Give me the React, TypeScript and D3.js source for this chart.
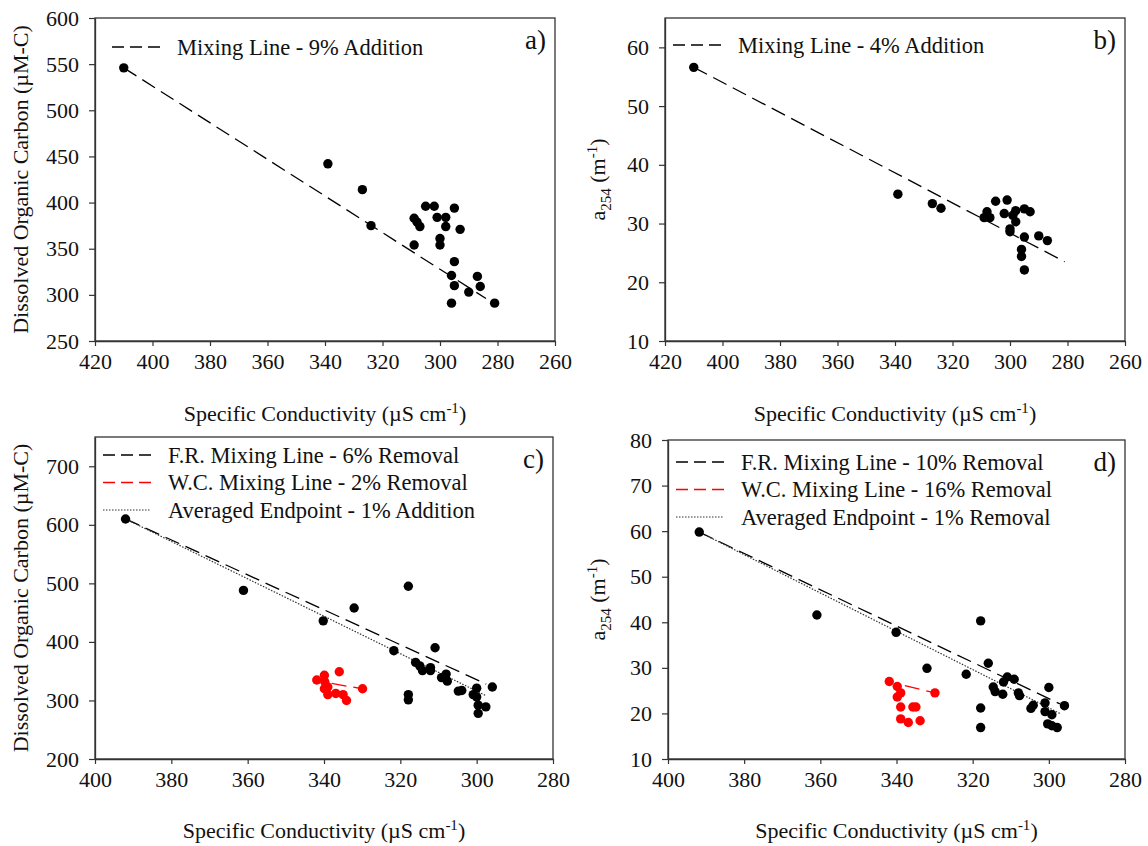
import { useEffect, useRef } from 'react'
import * as d3 from 'd3'

const FONT = '"Liberation Serif", "Times New Roman", serif'

// tick values
const xTicksTop = [420, 400, 380, 360, 340, 320, 300, 280, 260]
const xTicksBottom = [400, 380, 360, 340, 320, 300, 280]
const yTicksA = [250, 300, 350, 400, 450, 500, 550, 600]
const yTicksB = [10, 20, 30, 40, 50, 60]
const yTicksC = [200, 300, 400, 500, 600, 700]
const yTicksD = [10, 20, 30, 40, 50, 60, 70, 80]

// a) DOC vs conductivity
const condA = [410, 339, 327, 324, 309, 308, 307, 305, 302, 301, 298, 298, 295, 293, 300, 300, 309, 295, 296, 295, 290, 287, 286, 296, 281]
const docA = [546, 442, 414, 375, 383, 379, 374, 396, 396, 384, 384, 374, 394, 371, 361, 354, 354, 336, 321, 310, 303, 320, 309, 291, 291]
const mixCondA = [410, 284]
const mixDocA = [546, 296]

// b) a254 vs conductivity
const condB = [410, 339, 327, 324, 308, 309, 307, 305, 301, 302, 298, 298, 300, 295, 293, 295, 290, 287, 296, 296, 295, 299, 300]
const a254B = [56.6, 35.0, 33.4, 32.6, 32.0, 31.0, 31.0, 33.8, 34.0, 31.7, 32.2, 30.3, 29.1, 32.5, 32.0, 27.7, 27.9, 27.1, 25.6, 24.4, 22.1, 31.4, 28.6]
const mixCondB = [410, 281]
const mixA254B = [56.6, 23.5]

// c) DOC, F.R. (black) and W.C. (red)
const condC = [392, 361.1, 340.2, 332.1, 317.9, 321.7, 310.9, 316, 314.9, 314.2, 312.1, 312.1, 309.2, 308, 307.7, 304.8, 303.9, 300, 300.9, 300, 299.6, 297.6, 299.6, 295.9, 317.9, 317.9]
const docC = [610, 488, 436, 458, 495, 385, 390, 365, 359, 351, 356, 351, 339, 345, 333, 316, 317, 321, 310, 306, 292, 289, 278, 323, 310, 301]
const condCRed = [341.9, 339.9, 336, 339.8, 339, 339.9, 339, 336.9, 335, 334.1, 329.9]
const docCRed = [335, 343, 349, 332, 323, 320, 310, 312, 310, 300, 320]
const frCondC = [392, 297.5]
const frDocC = [610, 328]
const wcCondC = [338, 330]
const wcDocC = [329, 320]
const avgCondC = [392, 297.5]
const avgDocC = [610, 308]

// d) a254, F.R. (black) and W.C. (red)
const condD = [391.8, 360.9, 340.1, 332, 317.9, 321.7, 315.9, 317.9, 317.9, 314.6, 314.1, 312.1, 311.9, 310.9, 309.1, 308, 307.7, 304.7, 304.1, 301, 301, 300, 299.2, 300.3, 299.2, 297.8, 295.9]
const a254D = [59.8, 41.6, 37.8, 29.9, 40.3, 28.6, 31, 21.2, 16.9, 25.8, 24.8, 24.2, 26.9, 28, 27.5, 24.5, 23.9, 21.1, 21.8, 22.3, 20.4, 25.7, 19.7, 17.7, 17.3, 16.9, 21.7]
const condDRed = [341.9, 339.8, 338.9, 339.8, 338.9, 335.7, 334.9, 338.9, 336.9, 333.8, 329.9]
const a254DRed = [27, 25.9, 24.5, 23.6, 21.4, 21.4, 21.4, 18.8, 18, 18.4, 24.5]
const frCondD = [391.8, 297.1]
const frA254D = [59.8, 22.1]
const wcCondD = [337.8, 329.9]
const wcA254D = [26.1, 24.5]
const avgCondD = [391.8, 297.1]
const avgA254D = [59.8, 20]

const DASH = '15,7'
const DOT = '1.5,1.5'

const zip = (xs: number[], ys: number[]) => xs.map((v, i) => [v, ys[i]] as [number, number])

const panels = [
  {
    letter: 'a)', left: 95, right: 555, top: 18, bottom: 341,
    xDomain: [420, 260], yDomain: [250, 600], xTicks: xTicksTop, yTicks: yTicksA,
    yLabel: 'doc', yLabelX: 20, xLabelY: 421,
    points: [{ data: zip(condA, docA), color: '#000' }],
    lines: [{ data: zip(mixCondA, mixDocA), color: '#000', dash: DASH, label: 'Mixing Line - 9% Addition' }],
    legendX: 112, legendY: 47,
  },
  {
    letter: 'b)', left: 665, right: 1125, top: 18, bottom: 341,
    xDomain: [420, 260], yDomain: [10, 65], xTicks: xTicksTop, yTicks: yTicksB,
    yLabel: 'a254', yLabelX: 597, xLabelY: 421,
    points: [{ data: zip(condB, a254B), color: '#000' }],
    lines: [{ data: zip(mixCondB, mixA254B), color: '#000', dash: DASH, label: 'Mixing Line - 4% Addition' }],
    legendX: 673, legendY: 45,
  },
  {
    letter: 'c)', left: 95, right: 553, top: 437, bottom: 759,
    xDomain: [400, 280], yDomain: [200, 750], xTicks: xTicksBottom, yTicks: yTicksC,
    yLabel: 'doc', yLabelX: 20, xLabelY: 838,
    points: [{ data: zip(condC, docC), color: '#000' }, { data: zip(condCRed, docCRed), color: '#f00' }],
    lines: [
      { data: zip(frCondC, frDocC), color: '#000', dash: DASH, label: 'F.R. Mixing Line - 6% Removal' },
      { data: zip(wcCondC, wcDocC), color: '#f00', dash: DASH, label: 'W.C. Mixing Line - 2% Removal' },
      { data: zip(avgCondC, avgDocC), color: '#333', dash: DOT, label: 'Averaged Endpoint - 1% Addition' },
    ],
    legendX: 103, legendY: 455,
  },
  {
    letter: 'd)', left: 668, right: 1125, top: 440, bottom: 759,
    xDomain: [400, 280], yDomain: [10, 80], xTicks: xTicksBottom, yTicks: yTicksD,
    yLabel: 'a254', yLabelX: 597, xLabelY: 838,
    points: [{ data: zip(condD, a254D), color: '#000' }, { data: zip(condDRed, a254DRed), color: '#f00' }],
    lines: [
      { data: zip(frCondD, frA254D), color: '#000', dash: DASH, label: 'F.R. Mixing Line - 10% Removal' },
      { data: zip(wcCondD, wcA254D), color: '#f00', dash: DASH, label: 'W.C. Mixing Line - 16% Removal' },
      { data: zip(avgCondD, avgA254D), color: '#333', dash: DOT, label: 'Averaged Endpoint - 1% Removal' },
    ],
    legendX: 676, legendY: 462,
  },
]

function drawPanel(svg: any, p: any) {
  const x = d3.scaleLinear().domain(p.xDomain).range([p.left, p.right])
  const y = d3.scaleLinear().domain(p.yDomain).range([p.bottom, p.top])
  const g = svg.append('g')

  // frame
  g.append('rect')
    .attr('x', p.left).attr('y', p.top)
    .attr('width', p.right - p.left).attr('height', p.bottom - p.top)
    .attr('fill', 'none').attr('stroke', '#333').attr('stroke-width', 1.3)

  // x axis
  const xa = g.append('g')
    .attr('transform', `translate(0,${p.bottom})`)
    .call(d3.axisBottom(x).tickValues(p.xTicks).tickSize(5).tickSizeOuter(0).tickPadding(7).tickFormat(d3.format('d')))
  // y axis
  const ya = g.append('g')
    .attr('transform', `translate(${p.left},0)`)
    .call(d3.axisLeft(y).tickValues(p.yTicks).tickSize(6).tickSizeOuter(0).tickPadding(10).tickFormat(d3.format('d')))
  for (const a of [xa, ya]) {
    a.attr('font-family', FONT).attr('font-size', 22).attr('color', '#333')
    a.selectAll('text').attr('fill', '#111')
    a.selectAll('line').attr('stroke-width', 1.2)
    a.select('.domain').attr('stroke-width', 1.3)
  }

  // lines
  const line = d3.line().x((d: any) => x(d[0])).y((d: any) => y(d[1]))
  p.lines.forEach((l: any) => {
    g.append('path')
      .attr('d', line(l.data))
      .attr('fill', 'none')
      .attr('stroke', l.color)
      .attr('stroke-width', l.dash === DOT ? 1.2 : 1.3)
      .attr('stroke-dasharray', l.dash)
  })

  // points
  p.points.forEach((s: any) => {
    g.append('g').selectAll('circle')
      .data(s.data)
      .join('circle')
      .attr('cx', (d: any) => x(d[0]))
      .attr('cy', (d: any) => y(d[1]))
      .attr('r', 4.7)
      .attr('fill', s.color)
  })

  // legend
  p.lines.forEach((l: any, i: number) => {
    const ly = p.legendY + i * 27.5
    g.append('line')
      .attr('x1', p.legendX).attr('x2', p.legendX + 48)
      .attr('y1', ly).attr('y2', ly)
      .attr('stroke', l.color)
      .attr('stroke-width', l.dash === DOT ? 1.2 : 1.3)
      .attr('stroke-dasharray', l.dash === DOT ? DOT : '12,6')
    g.append('text')
      .attr('x', p.legendX + 65).attr('y', ly + 7.5)
      .attr('font-family', FONT).attr('font-size', 22.5).attr('fill', '#111')
      .text(l.label)
  })

  // panel letter
  g.append('text')
    .attr('x', p.right - 9).attr('y', p.top + 31)
    .attr('text-anchor', 'end')
    .attr('font-family', FONT).attr('font-size', 27).attr('fill', '#111')
    .text(p.letter)

  // x label
  const xl = g.append('text')
    .attr('x', (p.left + p.right) / 2).attr('y', p.xLabelY)
    .attr('text-anchor', 'middle')
    .attr('font-family', FONT).attr('font-size', 22).attr('fill', '#111')
  xl.append('tspan').text('Specific Conductivity (\u00b5S cm')
  xl.append('tspan').attr('dy', -8).attr('font-size', 15).text('-1')
  xl.append('tspan').attr('dy', 8).text(')')

  // y label
  const cy = (p.top + p.bottom) / 2
  const yl = g.append('text')
    .attr('transform', `translate(${p.yLabelX},${cy}) rotate(-90)`)
    .attr('text-anchor', 'middle')
    .attr('dy', '0.35em')
    .attr('font-family', FONT).attr('font-size', 22).attr('fill', '#111')
  if (p.yLabel === 'doc') {
    yl.text('Dissolved Organic Carbon (\u00b5M-C)')
  } else {
    yl.append('tspan').text('a')
    yl.append('tspan').attr('dy', 6).attr('font-size', 15).text('254')
    yl.append('tspan').attr('dy', -6).text(' (m')
    yl.append('tspan').attr('dy', -8).attr('font-size', 15).text('-1')
    yl.append('tspan').attr('dy', 8).text(')')
  }
}

export default function App() {
  const ref = useRef<SVGSVGElement>(null)
  useEffect(() => {
    const svg = d3.select(ref.current)
    svg.selectAll('*').remove()
    panels.forEach(p => drawPanel(svg, p))
  }, [])
  return (
    <svg ref={ref} width={1148} height={846}
      style={{ position: 'absolute', left: 0, top: 0, background: '#fff' }} />
  )
}
